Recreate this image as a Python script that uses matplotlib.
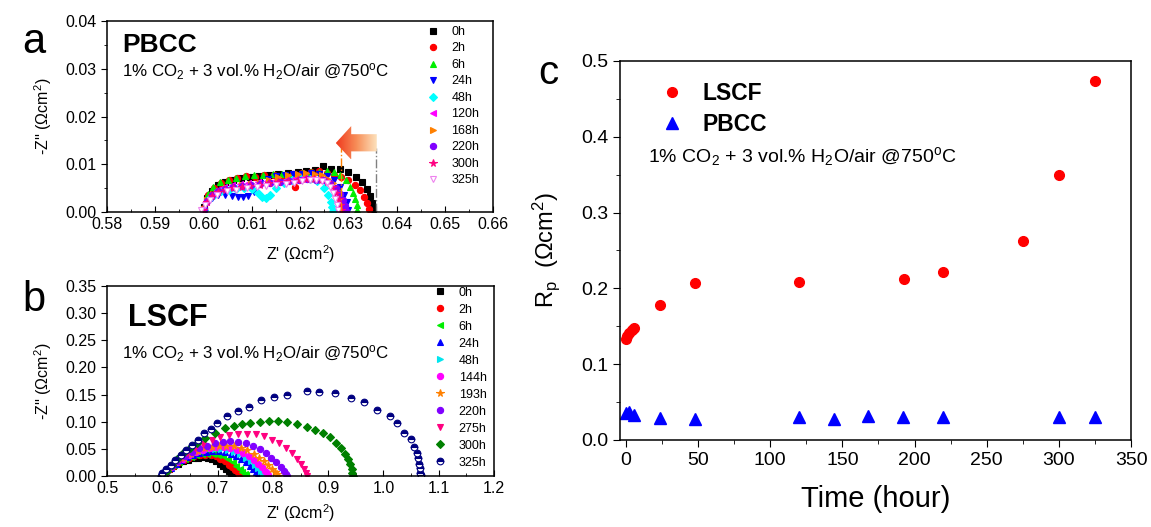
import numpy as np
import matplotlib
matplotlib.use("Agg")
import matplotlib.pyplot as plt
from matplotlib.patches import Polygon
from matplotlib.colors import LinearSegmentedColormap
from matplotlib.ticker import MultipleLocator, FormatStrFormatter

plt.rcParams['font.family'] = ['Liberation Sans', 'DejaVu Sans']
plt.rcParams['mathtext.fontset'] = 'custom'
plt.rcParams['mathtext.rm'] = 'Liberation Sans'
plt.rcParams['mathtext.it'] = 'Liberation Sans:italic'
plt.rcParams['mathtext.bf'] = 'Liberation Sans:bold'

# ---------------- panel a : PBCC impedance (Z', -Z'') ----------------
pbcc_labels = ['0h', '2h', '6h', '24h', '48h', '120h', '168h', '220h', '300h', '325h']
pbcc_x = [
    [0.6000, 0.6008, 0.6018, 0.6030, 0.6045, 0.6060, 0.6078, 0.6096, 0.6115, 0.6135, 0.6155, 0.6175, 0.6195,
     0.6213, 0.6230, 0.6248, 0.6265, 0.6282, 0.6300, 0.6315, 0.6328, 0.6338, 0.6345, 0.6350, 0.6352],
    [0.6000, 0.6010, 0.6022, 0.6037, 0.6053, 0.6070, 0.6088, 0.6106, 0.6125, 0.6145, 0.6165, 0.6185, 0.6190,
     0.6205, 0.6222, 0.6240, 0.6256, 0.6270, 0.6285, 0.6300, 0.6313, 0.6324, 0.6333, 0.6339, 0.6343],
    [0.6000, 0.6009, 0.6020, 0.6034, 0.6050, 0.6067, 0.6085, 0.6104, 0.6123, 0.6143, 0.6163, 0.6183, 0.6203,
     0.6222, 0.6240, 0.6256, 0.6270, 0.6283, 0.6295, 0.6304, 0.6310, 0.6314, 0.6317, 0.6318],
    [0.6000, 0.6008, 0.6018, 0.6030, 0.6044, 0.6058, 0.6072, 0.6082, 0.6092, 0.6104, 0.6118, 0.6133, 0.6150,
     0.6168, 0.6186, 0.6204, 0.6222, 0.6240, 0.6256, 0.6270, 0.6282, 0.6291, 0.6297, 0.6300],
    [0.6000, 0.6010, 0.6022, 0.6036, 0.6052, 0.6068, 0.6084, 0.6100, 0.6112, 0.6122, 0.6130, 0.6138, 0.6150,
     0.6166, 0.6184, 0.6202, 0.6220, 0.6236, 0.6249, 0.6258, 0.6264, 0.6267, 0.6268],
    [0.5998, 0.6006, 0.6016, 0.6028, 0.6042, 0.6058, 0.6075, 0.6093, 0.6112, 0.6131, 0.6150, 0.6170, 0.6190,
     0.6208, 0.6225, 0.6240, 0.6252, 0.6262, 0.6270, 0.6276, 0.6279, 0.6280],
    [0.6000, 0.6008, 0.6019, 0.6032, 0.6047, 0.6063, 0.6080, 0.6098, 0.6117, 0.6136, 0.6155, 0.6175, 0.6195,
     0.6213, 0.6230, 0.6245, 0.6258, 0.6268, 0.6276, 0.6282, 0.6286, 0.6288],
    [0.6000, 0.6008, 0.6018, 0.6030, 0.6045, 0.6062, 0.6080, 0.6099, 0.6118, 0.6138, 0.6158, 0.6178, 0.6197,
     0.6215, 0.6232, 0.6248, 0.6262, 0.6274, 0.6283, 0.6290, 0.6294, 0.6296],
    [0.5998, 0.6007, 0.6017, 0.6030, 0.6045, 0.6061, 0.6079, 0.6097, 0.6116, 0.6135, 0.6155, 0.6175, 0.6195,
     0.6213, 0.6229, 0.6243, 0.6256, 0.6266, 0.6274, 0.6280, 0.6283, 0.6285],
    [0.5995, 0.6002, 0.6013, 0.6028, 0.6048, 0.6068, 0.6089, 0.6110, 0.6130, 0.6150, 0.6170, 0.6188, 0.6205,
     0.6220, 0.6234, 0.6246, 0.6255, 0.6262, 0.6268, 0.6273, 0.6276, 0.6279],
]
pbcc_y = [
    [0.0010, 0.0030, 0.0045, 0.0056, 0.0063, 0.0068, 0.0071, 0.0073, 0.0075, 0.0077, 0.0079, 0.0081, 0.0083,
     0.0086, 0.0089, 0.0096, 0.0090, 0.0091, 0.0084, 0.0074, 0.0062, 0.0048, 0.0034, 0.0019, 0.0006],
    [0.0008, 0.0035, 0.0050, 0.0060, 0.0066, 0.0072, 0.0075, 0.0074, 0.0077, 0.0078, 0.0076, 0.0080, 0.0053,
     0.0082, 0.0084, 0.0085, 0.0081, 0.0077, 0.0074, 0.0067, 0.0057, 0.0046, 0.0032, 0.0018, 0.0006],
    [0.0010, 0.0038, 0.0053, 0.0062, 0.0068, 0.0072, 0.0075, 0.0077, 0.0078, 0.0079, 0.0079, 0.0080, 0.0081,
     0.0083, 0.0084, 0.0086, 0.0084, 0.0078, 0.0067, 0.0053, 0.0040, 0.0027, 0.0014, 0.0004],
    [0.0005, 0.0020, 0.0030, 0.0035, 0.0036, 0.0034, 0.0032, 0.0031, 0.0034, 0.0042, 0.0060, 0.0070, 0.0075,
     0.0077, 0.0079, 0.0080, 0.0081, 0.0080, 0.0075, 0.0066, 0.0052, 0.0036, 0.0020, 0.0005],
    [0.0005, 0.0025, 0.0036, 0.0043, 0.0047, 0.0049, 0.0050, 0.0048, 0.0040, 0.0032, 0.0030, 0.0036, 0.0050,
     0.0060, 0.0066, 0.0070, 0.0070, 0.0064, 0.0050, 0.0036, 0.0022, 0.0010, 0.0002],
    [0.0005, 0.0022, 0.0036, 0.0046, 0.0052, 0.0056, 0.0058, 0.0060, 0.0062, 0.0064, 0.0066, 0.0068, 0.0071,
     0.0073, 0.0074, 0.0072, 0.0066, 0.0056, 0.0044, 0.0030, 0.0016, 0.0004],
    [0.0006, 0.0025, 0.0037, 0.0045, 0.0050, 0.0053, 0.0056, 0.0058, 0.0061, 0.0067, 0.0074, 0.0078, 0.0080,
     0.0081, 0.0080, 0.0077, 0.0070, 0.0060, 0.0046, 0.0031, 0.0017, 0.0004],
    [0.0005, 0.0024, 0.0036, 0.0044, 0.0049, 0.0052, 0.0055, 0.0057, 0.0059, 0.0061, 0.0063, 0.0065, 0.0067,
     0.0070, 0.0068, 0.0066, 0.0060, 0.0050, 0.0038, 0.0025, 0.0013, 0.0003],
    [0.0004, 0.0022, 0.0034, 0.0042, 0.0047, 0.0050, 0.0052, 0.0054, 0.0057, 0.0060, 0.0062, 0.0065, 0.0067,
     0.0069, 0.0070, 0.0068, 0.0062, 0.0052, 0.0040, 0.0027, 0.0014, 0.0004],
    [0.0004, 0.0015, 0.0025, 0.0035, 0.0043, 0.0047, 0.0050, 0.0053, 0.0055, 0.0057, 0.0059, 0.0061, 0.0064,
     0.0066, 0.0067, 0.0064, 0.0060, 0.0052, 0.0040, 0.0027, 0.0015, 0.0004],
]

# ---------------- panel b : LSCF impedance ----------------
lscf_labels = ['0h', '2h', '6h', '24h', '48h', '144h', '193h', '220h', '275h', '300h', '325h']
lscf_x = [
    [0.600, 0.605, 0.612, 0.620, 0.628, 0.637, 0.646, 0.655, 0.664, 0.673, 0.682, 0.690, 0.697, 0.704, 0.710,
     0.716, 0.721, 0.725, 0.728, 0.731, 0.732],
    [0.600, 0.606, 0.613, 0.621, 0.630, 0.639, 0.648, 0.658, 0.668, 0.678, 0.688, 0.697, 0.705, 0.713, 0.720,
     0.726, 0.731, 0.736, 0.739, 0.741, 0.742],
    [0.600, 0.606, 0.614, 0.622, 0.631, 0.641, 0.651, 0.661, 0.671, 0.681, 0.691, 0.701, 0.710, 0.719, 0.727,
     0.734, 0.740, 0.745, 0.749, 0.751, 0.752],
    [0.600, 0.607, 0.615, 0.624, 0.634, 0.645, 0.656, 0.667, 0.679, 0.690, 0.702, 0.713, 0.724, 0.734, 0.743,
     0.751, 0.758, 0.764, 0.769, 0.773, 0.775, 0.776],
    [0.600, 0.607, 0.616, 0.625, 0.636, 0.647, 0.659, 0.671, 0.683, 0.695, 0.707, 0.719, 0.730, 0.741, 0.751,
     0.760, 0.767, 0.773, 0.778, 0.782, 0.784, 0.785],
    [0.600, 0.607, 0.616, 0.626, 0.637, 0.649, 0.661, 0.673, 0.686, 0.698, 0.711, 0.723, 0.735, 0.746, 0.756,
     0.765, 0.773, 0.780, 0.785, 0.789, 0.791, 0.792],
    [0.600, 0.608, 0.617, 0.627, 0.639, 0.651, 0.664, 0.677, 0.690, 0.703, 0.716, 0.729, 0.742, 0.754, 0.765,
     0.775, 0.784, 0.792, 0.799, 0.804, 0.808, 0.810],
    [0.600, 0.608, 0.618, 0.629, 0.641, 0.654, 0.667, 0.681, 0.695, 0.709, 0.723, 0.737, 0.751, 0.764, 0.776,
     0.787, 0.797, 0.806, 0.814, 0.820, 0.824, 0.826],
    [0.600, 0.609, 0.620, 0.632, 0.645, 0.659, 0.674, 0.689, 0.705, 0.721, 0.737, 0.753, 0.769, 0.784, 0.798,
     0.811, 0.823, 0.834, 0.843, 0.851, 0.857, 0.860, 0.862],
    [0.600, 0.608, 0.617, 0.627, 0.638, 0.650, 0.663, 0.677, 0.696, 0.714, 0.729, 0.744, 0.759, 0.777, 0.793,
     0.810, 0.826, 0.844, 0.861, 0.877, 0.891, 0.904, 0.914, 0.923, 0.930, 0.936, 0.940, 0.943, 0.944, 0.945],
    [0.598, 0.600, 0.606, 0.615, 0.623, 0.633, 0.642, 0.653, 0.664, 0.676, 0.688, 0.699, 0.717, 0.736, 0.757,
     0.778, 0.802, 0.825, 0.862, 0.883, 0.913, 0.942, 0.965, 0.989, 1.011, 1.025, 1.038, 1.049, 1.056, 1.060,
     1.063, 1.065, 1.066, 1.067, 1.068],
]
lscf_y = [
    [0.000, 0.006, 0.012, 0.018, 0.023, 0.027, 0.030, 0.033, 0.034, 0.035, 0.034, 0.032, 0.028, 0.023, 0.018,
     0.013, 0.009, 0.006, 0.003, 0.001, 0.000],
    [0.000, 0.007, 0.013, 0.019, 0.025, 0.029, 0.033, 0.036, 0.038, 0.039, 0.038, 0.036, 0.032, 0.027, 0.021,
     0.016, 0.011, 0.007, 0.004, 0.002, 0.000],
    [0.000, 0.007, 0.014, 0.020, 0.026, 0.031, 0.035, 0.038, 0.040, 0.041, 0.041, 0.039, 0.036, 0.031, 0.025,
     0.019, 0.013, 0.008, 0.004, 0.002, 0.000],
    [0.000, 0.008, 0.015, 0.022, 0.029, 0.035, 0.039, 0.042, 0.045, 0.046, 0.046, 0.044, 0.041, 0.036, 0.031,
     0.025, 0.019, 0.013, 0.008, 0.004, 0.002, 0.000],
    [0.000, 0.008, 0.016, 0.024, 0.031, 0.037, 0.042, 0.046, 0.049, 0.050, 0.050, 0.048, 0.045, 0.040, 0.034,
     0.027, 0.021, 0.015, 0.009, 0.005, 0.002, 0.000],
    [0.000, 0.008, 0.017, 0.025, 0.032, 0.039, 0.044, 0.048, 0.051, 0.053, 0.053, 0.051, 0.048, 0.043, 0.037,
     0.030, 0.023, 0.016, 0.010, 0.005, 0.002, 0.000],
    [0.000, 0.009, 0.018, 0.026, 0.034, 0.041, 0.046, 0.051, 0.054, 0.056, 0.056, 0.055, 0.052, 0.047, 0.041,
     0.034, 0.027, 0.020, 0.013, 0.007, 0.003, 0.000],
    [0.000, 0.009, 0.019, 0.028, 0.037, 0.045, 0.051, 0.056, 0.060, 0.063, 0.064, 0.063, 0.060, 0.055, 0.049,
     0.042, 0.034, 0.026, 0.017, 0.009, 0.004, 0.000],
    [0.000, 0.010, 0.021, 0.032, 0.042, 0.051, 0.059, 0.066, 0.071, 0.075, 0.077, 0.078, 0.077, 0.073, 0.067,
     0.060, 0.051, 0.042, 0.032, 0.022, 0.012, 0.005, 0.000],
    [0.000, 0.010, 0.021, 0.032, 0.042, 0.052, 0.061, 0.070, 0.079, 0.088, 0.093, 0.095, 0.097, 0.099, 0.101,
     0.101, 0.100, 0.096, 0.091, 0.085, 0.079, 0.071, 0.061, 0.051, 0.041, 0.031, 0.022, 0.013, 0.006, 0.000],
    [0.000, 0.005, 0.012, 0.020, 0.029, 0.039, 0.048, 0.057, 0.066, 0.080, 0.087, 0.097, 0.111, 0.120, 0.128,
     0.140, 0.146, 0.150, 0.157, 0.155, 0.152, 0.144, 0.137, 0.122, 0.111, 0.097, 0.080, 0.068, 0.054, 0.042,
     0.033, 0.023, 0.014, 0.005, 0.001],
]

# ---------------- panel c : Rp vs time ----------------
lscf_t = [0, 1, 2, 4, 6, 24, 48, 120, 193, 220, 275, 300, 325]
lscf_rp = [0.133, 0.137, 0.141, 0.145, 0.148, 0.178, 0.207, 0.209, 0.213, 0.221, 0.263, 0.350, 0.473]
pbcc_t = [0, 2, 6, 24, 48, 120, 144, 168, 192, 220, 300, 325]
pbcc_rp = [0.036, 0.037, 0.033, 0.029, 0.028, 0.030, 0.028, 0.031, 0.030, 0.030, 0.030, 0.030]

cond = r"1% CO$\mathregular{_2}$ + 3 vol.% H$\mathregular{_2}$O/air @750$\mathregular{^o}$C"
ylab_z = r"-Z'' ($\mathregular{\Omega}$cm$\mathregular{^2}$)"
xlab_z = r"Z' ($\mathregular{\Omega}$cm$\mathregular{^2}$)"

fig = plt.figure(figsize=(11.51, 5.27), dpi=100)
axa = fig.add_axes([0.0930, 0.5977, 0.3354, 0.3624])
axb = fig.add_axes([0.0930, 0.0968, 0.3362, 0.3605])
axc = fig.add_axes([0.5387, 0.1651, 0.4440, 0.7192])

# styles for panel a
a_style = [('s', 'black', 'black'), ('o', 'red', 'red'), ('^', '#00ee00', '#00ee00'), ('v', 'blue', 'blue'),
           ('D', 'cyan', 'cyan'), ('<', 'magenta', 'magenta'), ('>', '#ff8000', '#ff8000'),
           ('o', '#8000ff', '#8000ff'), ('*', '#ff0080', '#ff0080'), ('v', 'white', '#ee82ee')]
for i in range(len(pbcc_labels)):
    m, fc, ec = a_style[i]
    ms = 4.5
    if m == 'D':
        ms = 3.6
    if m == '*':
        ms = 5.5
    axa.plot(pbcc_x[i], pbcc_y[i], linestyle='none', marker=m, ms=ms, mfc=fc, mec=ec, mew=0.8,
             label=pbcc_labels[i])

# arrow and dash-dot guide lines in panel a
axa.plot([0.6357, 0.6357], [0.0, 0.0135], color='gray', ls='-.', lw=1)
axa.plot([0.6285, 0.6285], [0.0002, 0.0140], color='#ff8000', ls='-.', lw=1)
arrow_pts = [(0.6274, 0.01445), (0.6306, 0.0180), (0.6306, 0.0163), (0.6359, 0.0163),
             (0.6359, 0.0127), (0.6306, 0.0127), (0.6306, 0.0110)]
arr = Polygon(arrow_pts, closed=True, facecolor='none', edgecolor='none')
axa.add_patch(arr)
grad = np.linspace(0, 1, 100).reshape(1, -1)
cm_arrow = LinearSegmentedColormap.from_list('arr', ['#f03a1e', '#f7905a', '#fde6c2'])
im = axa.imshow(grad, cmap=cm_arrow, extent=[0.6274, 0.6359, 0.0110, 0.0180], aspect='auto',
                interpolation='bicubic', zorder=3)
im.set_clip_path(arr)

axa.set_xlim(0.58, 0.66)
axa.set_ylim(0.0, 0.04)
axa.xaxis.set_major_locator(MultipleLocator(0.01))
axa.xaxis.set_minor_locator(MultipleLocator(0.005))
axa.yaxis.set_major_locator(MultipleLocator(0.01))
axa.yaxis.set_minor_locator(MultipleLocator(0.005))
axa.xaxis.set_major_formatter(FormatStrFormatter('%.2f'))
axa.yaxis.set_major_formatter(FormatStrFormatter('%.2f'))
axa.text(0.039, 0.874, 'PBCC', transform=axa.transAxes, fontsize=19, fontweight='bold', va='center')
axa.text(0.039, 0.733, cond, transform=axa.transAxes, fontsize=12.2, va='center')
axa.set_xlabel(xlab_z, fontsize=11.5, labelpad=8)
axa.set_ylabel(ylab_z, fontsize=11.5, labelpad=8)
axa.legend(loc='upper left', bbox_to_anchor=(0.805, 1.02), frameon=False, fontsize=9, handlelength=1.0,
           handletextpad=1.0, labelspacing=0.36, borderaxespad=0.3)

# styles for panel b
b_style = [('s', 'black', 'black'), ('o', 'red', 'red'), ('<', '#00ee00', '#00ee00'), ('^', 'blue', 'blue'),
           ('>', '#00e5ee', '#00e5ee'), ('o', '#ff00ff', '#ff00ff'), ('*', '#ff8000', '#ff8000'),
           ('o', '#8000ff', '#8000ff'), ('v', '#ff0080', '#ff0080'), ('D', '#008000', '#008000'),
           ('o', '#000080', '#000080')]
for i in range(len(lscf_labels)):
    m, fc, ec = b_style[i]
    ms = 4.5
    if m == 'D':
        ms = 4.2
    if m == '*':
        ms = 5.5
    if i == 10:
        axb.plot(lscf_x[i], lscf_y[i], linestyle='none', marker='o', ms=4.8, mfc=fc, mec=ec,
                 fillstyle='top', mfcalt='white', mew=0.8, label=lscf_labels[i])
    else:
        axb.plot(lscf_x[i], lscf_y[i], linestyle='none', marker=m, ms=ms, mfc=fc, mec=ec, mew=0.8,
                 label=lscf_labels[i])

axb.set_xlim(0.5, 1.2)
axb.set_ylim(0.0, 0.35)
axb.xaxis.set_major_locator(MultipleLocator(0.1))
axb.xaxis.set_minor_locator(MultipleLocator(0.05))
axb.yaxis.set_major_locator(MultipleLocator(0.05))
axb.xaxis.set_major_formatter(FormatStrFormatter('%.1f'))
axb.yaxis.set_major_formatter(FormatStrFormatter('%.2f'))
axb.text(0.054, 0.832, 'LSCF', transform=axb.transAxes, fontsize=22, fontweight='bold', va='center')
axb.text(0.039, 0.642, cond, transform=axb.transAxes, fontsize=12.2, va='center')
axb.set_xlabel(xlab_z, fontsize=11.5, labelpad=5)
axb.set_ylabel(ylab_z, fontsize=11.5, labelpad=8)
axb.legend(loc='upper left', bbox_to_anchor=(0.825, 1.035), frameon=False, fontsize=9, handlelength=1.0,
           handletextpad=1.0, labelspacing=0.40, borderaxespad=0.2)

for ax in (axa, axb):
    ax.tick_params(axis='x', which='both', direction='in', labelsize=11.5)
    ax.tick_params(axis='y', which='both', direction='out', labelsize=11.5)
    ax.tick_params(which='major', length=4)
    ax.tick_params(which='minor', length=2)

# panel c
axc.plot(lscf_t, lscf_rp, linestyle='none', marker='o', ms=7, color='red', label='LSCF')
axc.plot(pbcc_t, pbcc_rp, linestyle='none', marker='^', ms=8.5, color='blue', label='PBCC')
axc.set_xlim(-4, 350)
axc.set_ylim(0.0, 0.5)
axc.xaxis.set_major_locator(MultipleLocator(50))
axc.xaxis.set_minor_locator(MultipleLocator(25))
axc.yaxis.set_major_locator(MultipleLocator(0.1))
axc.yaxis.set_minor_locator(MultipleLocator(0.05))
axc.yaxis.set_major_formatter(FormatStrFormatter('%.1f'))
axc.tick_params(which='both', direction='out', labelsize=14)
axc.tick_params(which='major', length=5)
axc.tick_params(which='minor', length=3)
axc.set_xlabel('Time (hour)', fontsize=21, labelpad=12)
axc.set_ylabel(r"R$\mathregular{_p}$  ($\mathregular{\Omega}$cm$\mathregular{^2}$)", fontsize=17, labelpad=14)
axc.text(0.055, 0.747, cond, transform=axc.transAxes, fontsize=14, va='center')
leg = axc.legend(loc='upper left', bbox_to_anchor=(0.035, 1.0), frameon=False, fontsize=16.5,
                 handletextpad=0.7, labelspacing=0.35, handlelength=1.2)
for t in leg.get_texts():
    t.set_fontweight('bold')

for ax in (axa, axb, axc):
    for s in ax.spines.values():
        s.set_linewidth(1.1)

fig.text(22 / 1151, 1 - 42 / 527, 'a', fontsize=30, va='center')
fig.text(22 / 1151, 1 - 300 / 527, 'b', fontsize=30, va='center')
fig.text(538 / 1151, 1 - 73 / 527, 'c', fontsize=29, va='center')

fig.savefig('out.png', dpi=100)
